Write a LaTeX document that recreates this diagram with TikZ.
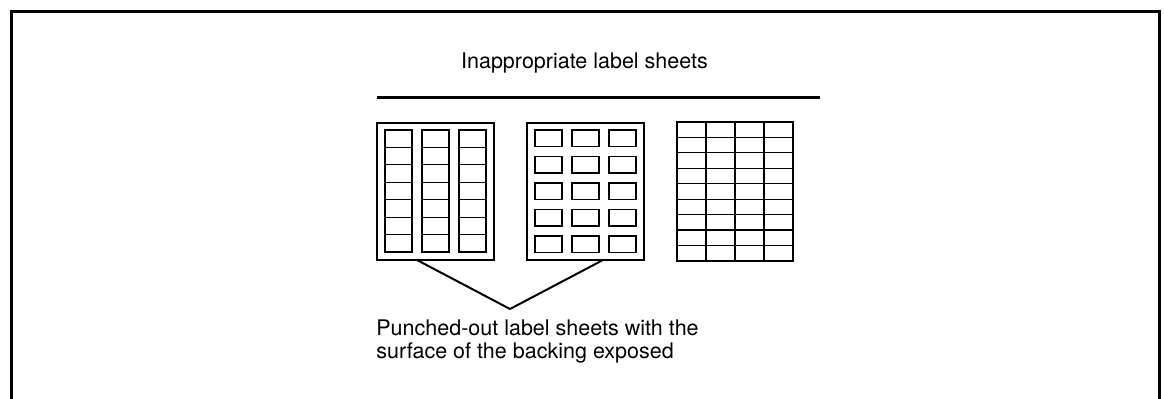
\documentclass[tikz,border=0pt]{standalone}
\usepackage{fontspec}
\setmainfont{TeX Gyre Heros}
\tikzset{
  frameline/.style={line width=1.5pt},
  sheetline/.style={line width=0.9pt},
  cellline/.style={line width=0.6pt},
  caption/.style={inner sep=0pt, font=\fontsize{10.75}{11.5}\selectfont},
}
\begin{document}
\begin{tikzpicture}[x=0.5pt, y=-0.5pt]
        \useasboundingbox (0,0) rectangle (1164,398);
        % Open frame
        \draw[frameline] (11.5,402) -- (11.5,11) -- (1159,11) -- (1159,402);

        % Title and rule
        \node[caption, anchor=base] (title) at (584.5,68) {Inappropriate label sheets};
        \draw[line width=1.1pt] (377,97.5) -- (820,97.5);

        % First sheet (left): columns of labels
        \draw[sheetline] (377,123) rectangle (494,260);
        \foreach \c in {385,422,459} {
          \draw[cellline] (\c,130) rectangle +(27,122);
          \foreach \r in {1,...,6} \draw[cellline] (\c,130+\r*17.43) -- +(27,0);
        }

        % Second sheet (middle): separate labels
        \draw[sheetline] (527,123) rectangle (644,260);
        \foreach \c in {535,572,609} \foreach \r in {0,...,4}
          \draw[cellline] (\c,130+\r*26.5) rectangle +(27,16.5);

        % Third sheet (right): full grid
        \draw[sheetline] (677,122) rectangle (793,261);
        \foreach \c in {1,2,3} \draw[cellline] (677+\c*29,122) -- +(0,139);
        \foreach \r in {1,...,8} \draw[cellline] (677,122+\r*15.44) -- +(116,0);

        % Pointer to the first two sheets
        \coordinate (tipA) at (417,260); \coordinate (tipB) at (603,260);
        \coordinate (apex) at (510,309);
        \draw[line width=1pt] (tipA) -- (apex) -- (tipB);
        \node[caption, anchor=north west, align=left] (note) at (376,319.5)
          {Punched-out label sheets with the\\surface of the backing exposed};
\end{tikzpicture}
\end{document}
